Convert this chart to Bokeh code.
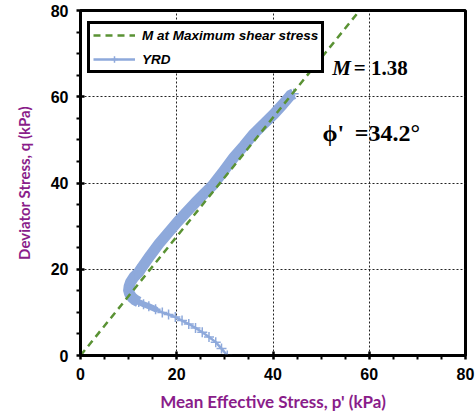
from bokeh.plotting import figure
from bokeh.models import Legend, LegendItem, Label, FixedTicker, Range1d
from bokeh.embed import file_html
from bokeh.resources import INLINE

# ---- data ----
M_value = "1.38"
phi_value = "34.2°"
p_m = [0.0, 58.0]
q_m = [0.0, 80.0]

p_yrd = [30.5, 29.3, 28.1, 26.7, 25.3, 23.9, 22.5, 21.1, 19.7, 18.3, 17.0, 15.6,
         14.2, 13.1, 12.1, 11.3, 10.7, 10.2, 10.0, 10.1, 10.4, 11.1, 12.1, 12.8,
         14.5, 16.3, 18.2, 20.1, 22.0, 23.9, 25.6, 27.4, 29.7, 31.9, 34.0, 36.0,
         38.1, 40.2, 42.0, 43.6, 44.3]
q_yrd = [0.0, 1.6, 3.1, 4.3, 5.4, 6.4, 7.3, 8.1, 8.9, 9.5, 10.0, 10.7,
         11.4, 11.9, 12.4, 12.9, 13.5, 14.3, 15.1, 16.0, 17.0, 18.2, 19.3, 20.5,
         23.2, 25.9, 28.4, 30.9, 33.2, 35.5, 37.4, 39.4, 42.7, 46.0, 48.7, 51.4,
         53.7, 56.0, 58.2, 60.3, 60.7]

major_ticks = [0, 20, 40, 60, 80]
minor_ticks = [5, 10, 15, 25, 30, 35, 45, 50, 55, 65, 70, 75]

x_label = "Mean Effective Stress, p' (kPa)"
y_label = "Deviator Stress, q (kPa)"
green = "#5A9234"
blue = "#8EA9DB"
purple = "#8A1D8A"

p = figure(width=475, height=414, output_backend="svg", toolbar_location=None,
           x_range=Range1d(0, 80), y_range=Range1d(0, 80),
           min_border_left=80, min_border_right=10, min_border_top=10,
           min_border_bottom=59)
p.background_fill_color = "white"
p.border_fill_color = "white"
p.outline_line_color = "black"
p.outline_line_width = 3

for ax in (p.xaxis[0], p.yaxis[0]):
    ax.ticker = FixedTicker(ticks=major_ticks, minor_ticks=minor_ticks)
    ax.axis_line_width = 2.5
    ax.axis_line_color = "black"
    ax.major_tick_line_width = 2.5
    ax.major_tick_in = 4
    ax.major_tick_out = 4
    ax.minor_tick_in = 0
    ax.minor_tick_out = 4
    ax.minor_tick_line_width = 2
    ax.major_label_text_font = "Liberation Sans"
    ax.major_label_text_font_style = "bold"
    ax.major_label_text_font_size = "16px"
    ax.major_label_text_color = "black"
    ax.axis_label_text_font = "Lato"
    ax.axis_label_text_font_style = "bold"
    ax.axis_label_text_color = purple

p.xaxis.axis_label = x_label
p.yaxis.axis_label = y_label
p.xaxis.axis_label_text_font_size = "17px"
p.yaxis.axis_label_text_font_size = "15px"
p.xaxis.major_label_standoff = 8
p.yaxis.major_label_standoff = 8
p.xaxis.axis_label_standoff = 8
p.yaxis.axis_label_standoff = 15

for g in (p.xgrid[0], p.ygrid[0]):
    g.ticker = FixedTicker(ticks=major_ticks)
    g.grid_line_color = "#222222"
    g.grid_line_dash = "2 2"
    g.grid_line_width = 1

# YRD curve
r_thin = p.line(p_yrd, q_yrd, line_color=blue, line_width=2.5)
r_mid = p.line(p_yrd[11:16], q_yrd[11:16], line_color=blue, line_width=6,
               line_join="round", line_cap="round")
r_band = p.line(p_yrd[14:], q_yrd[14:], line_color=blue,
                line_width=11, line_join="round", line_cap="butt")
r_cross = p.scatter(p_yrd, q_yrd, marker="cross", size=10, line_color=blue,
                    line_width=1.5)

# M line
r_m = p.line(p_m, q_m, line_color=green, line_width=2.5, line_dash="7 5")

legend = Legend(items=[
    LegendItem(label="M at Maximum shear stress", renderers=[r_m]),
    LegendItem(label="YRD", renderers=[r_thin, r_cross]),
], location=(7, 282))
legend.border_line_color = "black"
legend.border_line_alpha = 1
legend.border_line_width = 3
legend.background_fill_color = "white"
legend.background_fill_alpha = 1
legend.padding = 3
legend.spacing = 8
legend.label_height = 16
legend.glyph_height = 16
legend.glyph_width = 42
legend.label_standoff = 7
legend.label_text_font = "Liberation Sans"
legend.label_text_font_style = "bold italic"
legend.label_text_font_size = "13.5px"
legend.label_text_color = "black"
p.add_layout(legend, "center")

p.add_layout(Label(x=52.3, y=66.6, text="M", text_font="Liberation Serif",
                   text_font_style="bold italic", text_font_size="21px",
                   text_color="black", text_baseline="alphabetic"))
p.add_layout(Label(x=56.8, y=66.6, text="= " + M_value, text_font="Liberation Serif",
                   text_font_style="bold", text_font_size="21px",
                   text_color="black", text_baseline="alphabetic"))
p.add_layout(Label(x=50.3, y=51.7, text="\u03d5'", text_font="Liberation Serif",
                   text_font_style="bold", text_font_size="24px",
                   text_color="black", text_baseline="alphabetic"))
p.add_layout(Label(x=57.0, y=51.7, text="=" + phi_value, text_font="Liberation Serif",
                   text_font_style="bold", text_font_size="24px",
                   text_color="black", text_baseline="alphabetic"))

open("out.html", "w").write(file_html(p, INLINE))
